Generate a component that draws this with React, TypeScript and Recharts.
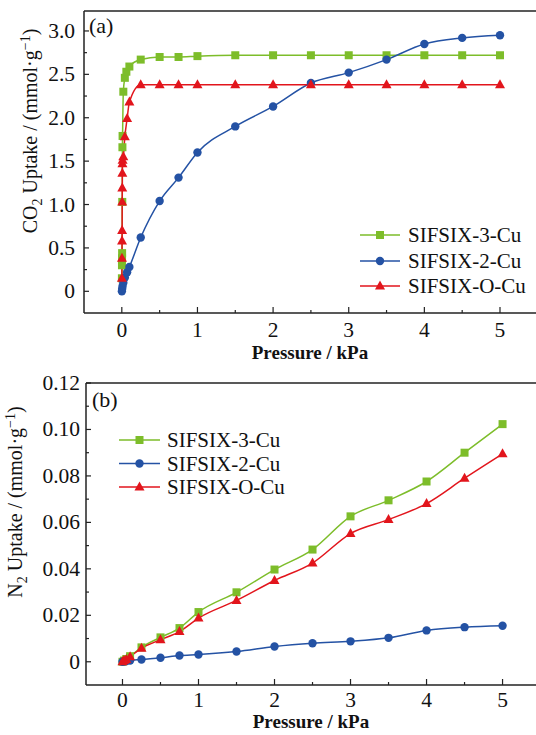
import React from "react";
import { LineChart, Line, XAxis, YAxis, Legend } from "recharts";

const FONT = "'Liberation Serif', 'Times New Roman', serif";
const GREEN = "#7dbd2a";
const BLUE = "#2452a4";
const RED = "#e2151c";
const AXIS = "#222";

// (a) CO2 uptake
const co2P3 = [0.001, 0.002, 0.003, 0.004, 0.006, 0.008, 0.01, 0.02, 0.04, 0.06, 0.1, 0.25, 0.5, 0.75, 1, 1.5, 2, 2.5, 3, 3.5, 4, 4.5, 5];
const co2V3 = [0.15, 0.3, 0.38, 0.44, 1.03, 1.66, 1.79, 2.3, 2.46, 2.53, 2.59, 2.67, 2.7, 2.7, 2.71, 2.72, 2.72, 2.72, 2.72, 2.72, 2.72, 2.72, 2.72];
const co2P2 = [0.001, 0.005, 0.01, 0.02, 0.04, 0.07, 0.1, 0.25, 0.5, 0.75, 1, 1.5, 2, 2.5, 3, 3.5, 4, 4.5, 5];
const co2V2 = [0.0, 0.03, 0.06, 0.1, 0.16, 0.22, 0.28, 0.62, 1.04, 1.31, 1.6, 1.9, 2.13, 2.4, 2.52, 2.67, 2.85, 2.92, 2.95];
const co2PO = [0.001, 0.002, 0.003, 0.004, 0.005, 0.006, 0.007, 0.008, 0.01, 0.02, 0.04, 0.07, 0.1, 0.25, 0.5, 0.75, 1, 1.5, 2, 2.5, 3, 3.5, 4, 4.5, 5];
const co2VO = [0.15, 0.38, 0.58, 0.7, 1.03, 1.19, 1.36, 1.47, 1.51, 1.55, 1.78, 1.99, 2.18, 2.38, 2.38, 2.38, 2.38, 2.38, 2.38, 2.38, 2.38, 2.38, 2.38, 2.38, 2.38];

// (b) N2 uptake
const n2P = [0, 0.02, 0.05, 0.1, 0.25, 0.5, 0.75, 1, 1.5, 2, 2.5, 3, 3.5, 4, 4.5, 5];
const n2V3 = [0, 0.0005, 0.0012, 0.0024, 0.0062, 0.0105, 0.0145, 0.0214, 0.0299, 0.0397, 0.0483, 0.0626, 0.0695, 0.0776, 0.09, 0.1023];
const n2V2 = [0, 0.0002, 0.0003, 0.0005, 0.001, 0.0017, 0.0027, 0.0031, 0.0044, 0.0066, 0.008, 0.0088, 0.0103, 0.0135, 0.0149, 0.0155];
const n2VO = [0, 0.0005, 0.001, 0.0022, 0.0058, 0.0095, 0.013, 0.0188, 0.0264, 0.035, 0.0425, 0.0552, 0.0612, 0.0681, 0.079, 0.0895];

const seriesNames = ["SIFSIX-3-Cu", "SIFSIX-2-Cu", "SIFSIX-O-Cu"];

const xTicks = [0, 0.5, 1, 1.5, 2, 2.5, 3, 3.5, 4, 4.5, 5];
const co2Ticks = [0, 0.25, 0.5, 0.75, 1, 1.25, 1.5, 1.75, 2, 2.25, 2.5, 2.75, 3];
const n2Ticks = [0, 0.01, 0.02, 0.03, 0.04, 0.05, 0.06, 0.07, 0.08, 0.09, 0.1, 0.11, 0.12];

const zip = (ps: number[], vs: number[]) => ps.map((p, i) => ({ p, v: vs[i] }));

const txt = { fontFamily: FONT };
const TICK_FONT = 21.5;

const square = (cx: number, cy: number, key?: string) => (
  <rect key={key} x={cx - 4} y={cy - 4} width={8} height={8} fill={GREEN} />
);
const circle = (cx: number, cy: number, key?: string) => (
  <circle key={key} cx={cx} cy={cy} r={4.2} fill={BLUE} />
);
const triangle = (cx: number, cy: number, key?: string) => (
  <path key={key} d={`M${cx},${cy - 5.5}L${cx + 5},${cy + 3.5}L${cx - 5},${cy + 3.5}Z`} fill={RED} />
);
const markers = [square, circle, triangle];
const colors = [GREEN, BLUE, RED];

const dotFn = (shape: typeof square, tag: string) => (props: any) =>
  shape(props.cx, props.cy, `${tag}-${props.index}`);

const near = (v: number, step: number) => Math.abs(v / step - Math.round(v / step)) < 1e-6;

const makeXTick = (drop: number) => (props: any) => {
  const { x, y, payload } = props;
  const v = payload.value;
  const major = near(v, 1);
  return (
    <g>
      <line x1={x} x2={x} y1={y} y2={y - (major ? 6 : 3)} stroke={AXIS} strokeWidth={1.2} />
      {major && (
        <text x={x} y={y + drop} textAnchor="middle" fontSize={TICK_FONT} style={txt} fill="#111">
          {v}
        </text>
      )}
    </g>
  );
};

const makeYTick = (step: number, digits: number, gap: number) => (props: any) => {
  const { x, y, payload } = props;
  const v = payload.value;
  const major = near(v, step);
  return (
    <g>
      <line x1={x} x2={x + (major ? 5 : 3)} y1={y} y2={y} stroke={AXIS} strokeWidth={1.2} />
      {major && (
        <text x={x - gap} y={y + 7} textAnchor="end" fontSize={TICK_FONT} style={txt} fill="#111">
          {v === 0 ? "0" : v.toFixed(digits)}
        </text>
      )}
    </g>
  );
};

const makeLegend = (lineX1: number, lineX2: number, rows: number[], textX: number) => () => (
  <svg width={200} height={90} style={{ overflow: "visible", display: "block" }}>
    {seriesNames.map((name, i) => (
      <g key={name}>
        <line x1={lineX1} x2={lineX2} y1={rows[i]} y2={rows[i]} stroke={colors[i]} strokeWidth={1.5} />
        {markers[i]((lineX1 + lineX2) / 2, rows[i])}
        <text x={textX} y={rows[i] + 7} fontSize={21} style={txt} fill="#111">
          {name}
        </text>
      </g>
    ))}
  </svg>
);

const co2Data = [zip(co2P3, co2V3), zip(co2P2, co2V2), zip(co2PO, co2VO)];
const n2Data = [zip(n2P, n2V3), zip(n2P, n2V2), zip(n2P, n2VO)];

export default function App() {
  return (
    <div style={{ position: "absolute", left: 0, top: 0, width: 536, height: 735, background: "#fff", fontFamily: FONT }}>
      <LineChart width={536} height={370} margin={{ top: 10, right: 0, bottom: 0, left: 0 }}>
        <XAxis
          dataKey="p"
          type="number"
          domain={[-0.5, 5.476]}
          ticks={xTicks}
          interval={0}
          height={57}
          tickSize={0}
          tickMargin={0}
          tick={makeXTick(24)}
          axisLine={{ stroke: AXIS, strokeWidth: 1.5 }}
          allowDataOverflow
        />
        <XAxis xAxisId="top" orientation="top" type="number" domain={[-0.5, 5.476]} height={1} tick={false} tickLine={false} axisLine={{ stroke: AXIS, strokeWidth: 1.5 }} />
        <YAxis
          type="number"
          domain={[-0.25, 3.23]}
          ticks={co2Ticks}
          interval={0}
          width={84}
          tickSize={0}
          tickMargin={0}
          tick={makeYTick(0.5, 1, 9)}
          axisLine={{ stroke: AXIS, strokeWidth: 1.5 }}
          allowDataOverflow
        />
        {co2Data.map((d, i) => (
          <Line
            key={seriesNames[i]}
            data={d}
            dataKey="v"
            name={seriesNames[i]}
            type="monotone"
            stroke={colors[i]}
            strokeWidth={1.5}
            dot={dotFn(markers[i], `a${i}`)}
            activeDot={false}
            isAnimationActive={false}
          />
        ))}
        <Legend
          layout="vertical"
          align="center"
          verticalAlign="middle"
          content={makeLegend(5, 45, [15, 41, 66], 53)}
          wrapperStyle={{ left: 355, top: 220, width: 181, height: 80 }}
        />
        <text x={89} y={33} fontSize={22} style={txt} fill="#111">(a)</text>
        <text x={310} y={359} textAnchor="middle" fontSize={19} fontWeight="bold" style={txt} fill="#111">
          Pressure / kPa
        </text>
        <text transform="rotate(-90, 37, 131)" x={37} y={131} textAnchor="middle" fontSize={20} style={txt} fill="#111">
          CO<tspan dy={5} fontSize={14}>2</tspan>
          <tspan dy={-5}> Uptake / (mmol·g</tspan>
          <tspan dy={-7} fontSize={14}>−1</tspan>
          <tspan dy={7}>)</tspan>
        </text>
      </LineChart>

      <LineChart width={536} height={365} margin={{ top: 12, right: 0, bottom: 0, left: 0 }}>
        <XAxis
          dataKey="p"
          type="number"
          domain={[-0.48, 5.44]}
          ticks={xTicks}
          interval={0}
          height={50}
          tickSize={0}
          tickMargin={0}
          tick={makeXTick(22)}
          axisLine={{ stroke: AXIS, strokeWidth: 1.5 }}
          allowDataOverflow
        />
        <XAxis xAxisId="top" orientation="top" type="number" domain={[-0.48, 5.44]} height={1} tick={false} tickLine={false} axisLine={{ stroke: AXIS, strokeWidth: 1.5 }} />
        <YAxis
          type="number"
          domain={[-0.01, 0.12]}
          ticks={n2Ticks}
          interval={0}
          width={86}
          tickSize={0}
          tickMargin={0}
          tick={makeYTick(0.02, 2, 6)}
          axisLine={{ stroke: AXIS, strokeWidth: 1.5 }}
          allowDataOverflow
        />
        {n2Data.map((d, i) => (
          <Line
            key={seriesNames[i]}
            data={d}
            dataKey="v"
            name={seriesNames[i]}
            type="monotone"
            stroke={colors[i]}
            strokeWidth={1.5}
            dot={dotFn(markers[i], `b${i}`)}
            activeDot={false}
            isAnimationActive={false}
          />
        ))}
        <Legend
          layout="vertical"
          align="center"
          verticalAlign="middle"
          content={makeLegend(9, 50, [15, 38.5, 62], 57)}
          wrapperStyle={{ left: 110, top: 55, width: 200, height: 80 }}
        />
        <text x={92} y={37} fontSize={22} style={txt} fill="#111">(b)</text>
        <text x={311} y={358} textAnchor="middle" fontSize={19} fontWeight="bold" style={txt} fill="#111">
          Pressure / kPa
        </text>
        <text transform="rotate(-90, 22, 132)" x={22} y={132} textAnchor="middle" fontSize={20} style={txt} fill="#111">
          N<tspan dy={5} fontSize={14}>2</tspan>
          <tspan dy={-5}> Uptake / (mmol·g</tspan>
          <tspan dy={-7} fontSize={14}>−1</tspan>
          <tspan dy={7}>)</tspan>
        </text>
      </LineChart>
    </div>
  );
}
